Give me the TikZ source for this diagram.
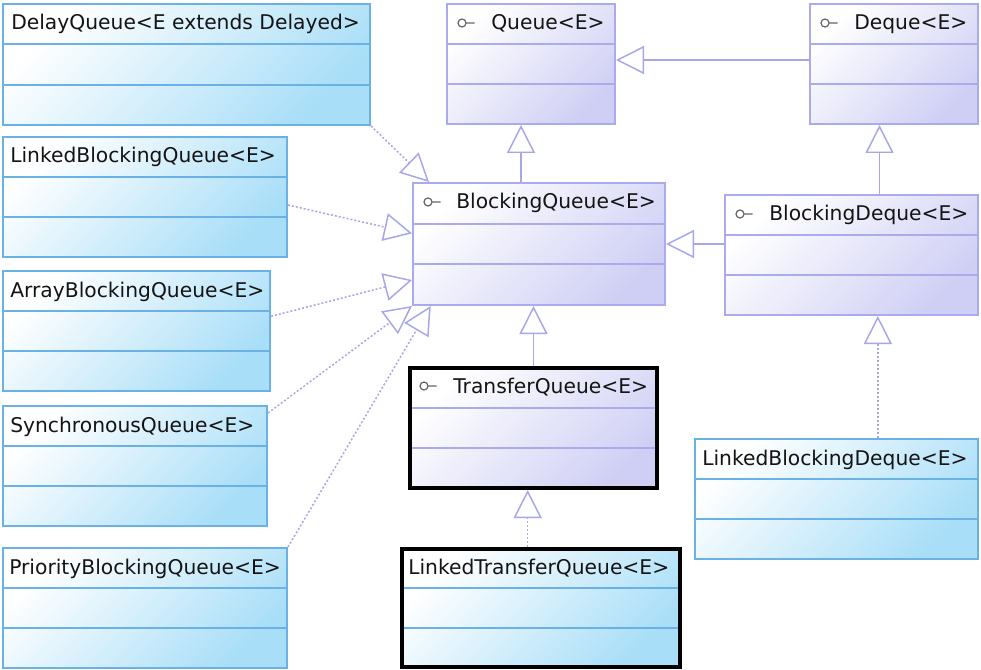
\documentclass[tikz,border=0pt]{standalone}
\usepackage{fontspec}
\setmainfont{DejaVu Sans}
\usepackage{xcolor}
\usepackage{tikz}
\usetikzlibrary{positioning, arrows.meta, calc, fit}

\definecolor{clsline}{HTML}{6AB2E6}
\definecolor{clsfill}{HTML}{A8DEF8}
\definecolor{ifcline}{HTML}{AAAAEC}
\definecolor{ifcfill}{HTML}{CFCFF5}
\definecolor{conn}{HTML}{A6A6EA}
\definecolor{txt}{HTML}{141414}

% the two lines that split a class box in three
\newcommand{\compartments}[1]{%
  \draw[#1, line width=1.5pt]
    ($(path picture bounding box.north west)!1/3!(path picture bounding box.south west)$) --
    ($(path picture bounding box.north east)!1/3!(path picture bounding box.south east)$)
    ($(path picture bounding box.north west)!2/3!(path picture bounding box.south west)$) --
    ($(path picture bounding box.north east)!2/3!(path picture bounding box.south east)$);}

\begin{document}
\begin{tikzpicture}[x=0.75pt, y=-0.75pt,
    cls/.style={rectangle, draw=clsline, line width=1.5pt, inner sep=0pt,
        top color=white, bottom color=clsfill, shading angle=45,
        path picture={\compartments{clsline}}},
    ifc/.style={rectangle, draw=ifcline, line width=1.5pt, inner sep=0pt,
        top color=white, bottom color=ifcfill, shading angle=45,
        path picture={\compartments{ifcline}}},
    sel/.style={draw=black, line width=3pt},
    ttl/.style={anchor=base west, inner sep=0pt, text=txt, font=\fontsize{15.2}{18}\selectfont},
    icon/.style={draw=black!60, line width=0.9pt},
    gen/.style={draw=conn, line width=1.1pt, -{Triangle[open, length=21pt, width=21pt]}},
    real/.style={gen, dash pattern=on 1.5pt off 1.5pt}
]
\path[use as bounding box, fill=white] (0,0) rectangle (981,670);

% interfaces
\node[ifc, fit={(447,4) (615,124)}] (q) {};
\node[ifc, fit={(810,4) (978,124)}] (deq) {};
\node[ifc, fit={(413,183) (665,305)}] (bq) {};
\node[ifc, fit={(725,195) (978,315)}] (bd) {};
\node[ifc, sel, fit={(410,368) (657,488)}] (tq) {};

% classes
\node[cls, fit={(3,4) (370,125)}] (dlq) {};
\node[cls, fit={(3,137) (287,257)}] (lbq) {};
\node[cls, fit={(3,271) (270,391)}] (abq) {};
\node[cls, fit={(3,406) (267,526)}] (sq) {};
\node[cls, fit={(3,548) (287,668)}] (pbq) {};
\node[cls, fit={(695,439) (978,559)}] (lbd) {};
\node[cls, sel, fit={(402,549) (680,667)}] (ltq) {};

% names
\node[ttl] (q-t) at ($(q.north west)+(45,27)$) {Queue<E>};
\node[ttl] (deq-t) at ($(deq.north west)+(45,27)$) {Deque<E>};
\node[ttl] (bq-t) at ($(bq.north west)+(44,27)$) {BlockingQueue<E>};
\node[ttl] (bd-t) at ($(bd.north west)+(45,27)$) {BlockingDeque<E>};
\node[ttl] (tq-t) at ($(tq.north west)+(45,27)$) {TransferQueue<E>};
\node[ttl] (dlq-t) at ($(dlq.north west)+(9,27)$) {DelayQueue<E extends Delayed>};
\node[ttl] (lbq-t) at ($(lbq.north west)+(8,27)$) {LinkedBlockingQueue<E>};
\node[ttl] (abq-t) at ($(abq.north west)+(8,27)$) {ArrayBlockingQueue<E>};
\node[ttl] (sq-t) at ($(sq.north west)+(8,27)$) {SynchronousQueue<E>};
\node[ttl] (pbq-t) at ($(pbq.north west)+(7,27)$) {PriorityBlockingQueue<E>};
\node[ttl] (lbd-t) at ($(lbd.north west)+(8,27)$) {LinkedBlockingDeque<E>};
\node[ttl] (ltq-t) at ($(ltq.north west)+(8,27)$) {LinkedTransferQueue<E>};

\foreach \n in {q, deq, bq, bd, tq}
    \draw[icon] ($(\n.north west)+(16,20)$) circle[radius=3pt] ++(3pt,0) -- ++(6.5pt,0);

% extends
\draw[gen] ([yshift=3pt]deq.west) -- ([yshift=3pt]q.east);
\draw[gen] ([xshift=-13.5pt]bq.north) -- ([xshift=-13.5pt]bq.north |- q.south);
\draw[gen] ([xshift=21pt]bd.north) -- ([xshift=21pt]bd.north |- deq.south);
\draw[gen] (bq.east -| bd.west) -- (bq.east);
\draw[gen] (tq.north) -- (tq.north |- bq.south);

% implements
\draw[real] ([xshift=-10pt]ltq.north) -- ([xshift=-10pt]ltq.north |- tq.south);
\draw[real] ([xshift=31pt]lbd.north) -- ([xshift=31pt]lbd.north |- bd.south);
\draw[real] (dlq.south east) -- ([xshift=12.75pt]bq.north west);
\draw[real] ([yshift=-6pt]lbq.east) -- ([yshift=8pt]bq.west);
\draw[real] ([yshift=11pt]abq.east) -- ([yshift=-27pt]bq.west);
\draw[real] ([yshift=-6pt]sq.north east) -- (bq.south west);
\draw[real] (pbq.north east) -- ([xshift=14pt]bq.south west);
\end{tikzpicture}
\end{document}
